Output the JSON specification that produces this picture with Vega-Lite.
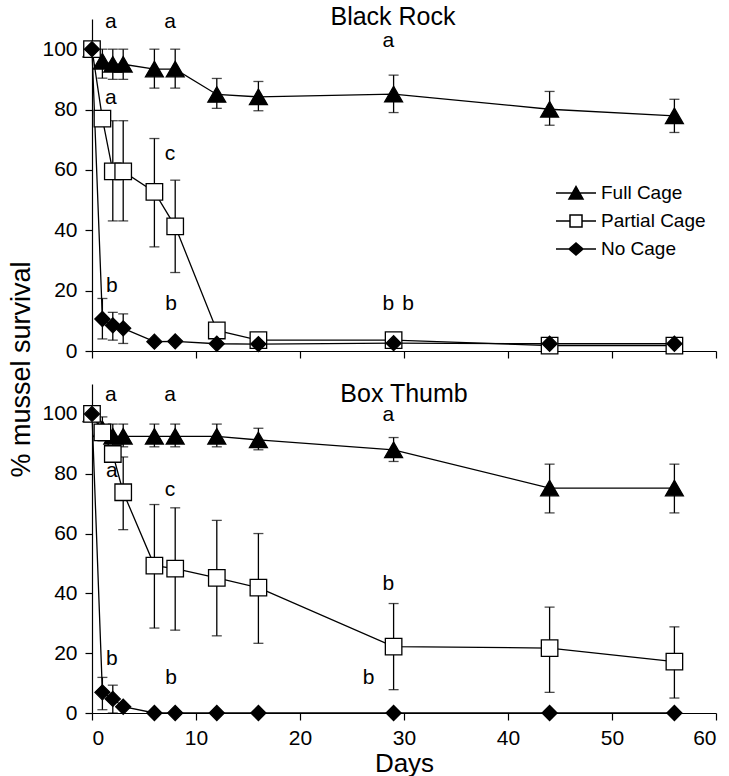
{
  "$schema": "https://vega.github.io/schema/vega-lite/v6.json",
  "background": "white",
  "padding": {"left": 7, "top": 5, "right": 5, "bottom": 2},
  "datasets": {
    "pts": [
      {"site": "Black Rock", "treatment": "Full Cage", "day": 0, "mean": 100, "lo": null, "hi": null},
      {"site": "Black Rock", "treatment": "Full Cage", "day": 1, "mean": 96, "lo": 90.4, "hi": 100},
      {"site": "Black Rock", "treatment": "Full Cage", "day": 2, "mean": 95, "lo": 90, "hi": 100},
      {"site": "Black Rock", "treatment": "Full Cage", "day": 3, "mean": 95, "lo": 90, "hi": 100},
      {"site": "Black Rock", "treatment": "Full Cage", "day": 6, "mean": 93.4, "lo": 87.1, "hi": 100},
      {"site": "Black Rock", "treatment": "Full Cage", "day": 8, "mean": 93.4, "lo": 87.1, "hi": 100},
      {"site": "Black Rock", "treatment": "Full Cage", "day": 12, "mean": 85, "lo": 80.4, "hi": 90.3},
      {"site": "Black Rock", "treatment": "Full Cage", "day": 16, "mean": 84.2, "lo": 79.6, "hi": 89.3},
      {"site": "Black Rock", "treatment": "Full Cage", "day": 29, "mean": 85.1, "lo": 79, "hi": 91.4},
      {"site": "Black Rock", "treatment": "Full Cage", "day": 44, "mean": 80.1, "lo": 74.8, "hi": 86},
      {"site": "Black Rock", "treatment": "Full Cage", "day": 56, "mean": 77.9, "lo": 72.4, "hi": 83.4},
      {"site": "Black Rock", "treatment": "Partial Cage", "day": 0, "mean": 100, "lo": null, "hi": null},
      {"site": "Black Rock", "treatment": "Partial Cage", "day": 1, "mean": 77, "lo": null, "hi": null},
      {"site": "Black Rock", "treatment": "Partial Cage", "day": 2, "mean": 59.5, "lo": 43.1, "hi": 76.3},
      {"site": "Black Rock", "treatment": "Partial Cage", "day": 3, "mean": 59.5, "lo": 43.1, "hi": 76.3},
      {"site": "Black Rock", "treatment": "Partial Cage", "day": 6, "mean": 52.7, "lo": 34.5, "hi": 70.4},
      {"site": "Black Rock", "treatment": "Partial Cage", "day": 8, "mean": 41.3, "lo": 26, "hi": 56.6},
      {"site": "Black Rock", "treatment": "Partial Cage", "day": 12, "mean": 6.8, "lo": null, "hi": null},
      {"site": "Black Rock", "treatment": "Partial Cage", "day": 16, "mean": 3.6, "lo": null, "hi": null},
      {"site": "Black Rock", "treatment": "Partial Cage", "day": 29, "mean": 3.6, "lo": null, "hi": null},
      {"site": "Black Rock", "treatment": "Partial Cage", "day": 44, "mean": 1.8, "lo": null, "hi": null},
      {"site": "Black Rock", "treatment": "Partial Cage", "day": 56, "mean": 1.8, "lo": null, "hi": null},
      {"site": "Black Rock", "treatment": "No Cage", "day": 0, "mean": 100, "lo": null, "hi": null},
      {"site": "Black Rock", "treatment": "No Cage", "day": 1, "mean": 10.6, "lo": 4, "hi": 17.4},
      {"site": "Black Rock", "treatment": "No Cage", "day": 2, "mean": 8.5, "lo": 3.6, "hi": 12.8},
      {"site": "Black Rock", "treatment": "No Cage", "day": 3, "mean": 7.5, "lo": 2.5, "hi": 12.3},
      {"site": "Black Rock", "treatment": "No Cage", "day": 6, "mean": 3.1, "lo": null, "hi": null},
      {"site": "Black Rock", "treatment": "No Cage", "day": 8, "mean": 3.2, "lo": null, "hi": null},
      {"site": "Black Rock", "treatment": "No Cage", "day": 12, "mean": 2.4, "lo": null, "hi": null},
      {"site": "Black Rock", "treatment": "No Cage", "day": 16, "mean": 2.3, "lo": null, "hi": null},
      {"site": "Black Rock", "treatment": "No Cage", "day": 29, "mean": 2.6, "lo": null, "hi": null},
      {"site": "Black Rock", "treatment": "No Cage", "day": 44, "mean": 2.4, "lo": null, "hi": null},
      {"site": "Black Rock", "treatment": "No Cage", "day": 56, "mean": 2.4, "lo": null, "hi": null},
      {"site": "Box Thumb", "treatment": "Full Cage", "day": 0, "mean": 100, "lo": null, "hi": null},
      {"site": "Box Thumb", "treatment": "Full Cage", "day": 1, "mean": 95, "lo": 91, "hi": 99},
      {"site": "Box Thumb", "treatment": "Full Cage", "day": 2, "mean": 92.5, "lo": 89, "hi": 96.6},
      {"site": "Box Thumb", "treatment": "Full Cage", "day": 3, "mean": 92.5, "lo": 89, "hi": 96.6},
      {"site": "Box Thumb", "treatment": "Full Cage", "day": 6, "mean": 92.5, "lo": 89, "hi": 96.6},
      {"site": "Box Thumb", "treatment": "Full Cage", "day": 8, "mean": 92.5, "lo": 89, "hi": 96.6},
      {"site": "Box Thumb", "treatment": "Full Cage", "day": 12, "mean": 92.5, "lo": 89, "hi": 96.6},
      {"site": "Box Thumb", "treatment": "Full Cage", "day": 16, "mean": 91.3, "lo": 88, "hi": 95.2},
      {"site": "Box Thumb", "treatment": "Full Cage", "day": 29, "mean": 88, "lo": 84.1, "hi": 92.1},
      {"site": "Box Thumb", "treatment": "Full Cage", "day": 44, "mean": 75.2, "lo": 66.9, "hi": 83.2},
      {"site": "Box Thumb", "treatment": "Full Cage", "day": 56, "mean": 75.2, "lo": 66.9, "hi": 83.2},
      {"site": "Box Thumb", "treatment": "Partial Cage", "day": 0, "mean": 100, "lo": null, "hi": null},
      {"site": "Box Thumb", "treatment": "Partial Cage", "day": 1, "mean": 93.8, "lo": null, "hi": null},
      {"site": "Box Thumb", "treatment": "Partial Cage", "day": 2, "mean": 86.6, "lo": null, "hi": null},
      {"site": "Box Thumb", "treatment": "Partial Cage", "day": 3, "mean": 73.8, "lo": 61.3, "hi": 85.6},
      {"site": "Box Thumb", "treatment": "Partial Cage", "day": 6, "mean": 49.3, "lo": 28.4, "hi": 69.7},
      {"site": "Box Thumb", "treatment": "Partial Cage", "day": 8, "mean": 48.3, "lo": 27.7, "hi": 68.6},
      {"site": "Box Thumb", "treatment": "Partial Cage", "day": 12, "mean": 45.2, "lo": 25.8, "hi": 64.4},
      {"site": "Box Thumb", "treatment": "Partial Cage", "day": 16, "mean": 41.9, "lo": 23.3, "hi": 60},
      {"site": "Box Thumb", "treatment": "Partial Cage", "day": 29, "mean": 22.2, "lo": 7.8, "hi": 36.6},
      {"site": "Box Thumb", "treatment": "Partial Cage", "day": 44, "mean": 21.7, "lo": 6.9, "hi": 35.4},
      {"site": "Box Thumb", "treatment": "Partial Cage", "day": 56, "mean": 17.2, "lo": 5, "hi": 28.8},
      {"site": "Box Thumb", "treatment": "No Cage", "day": 0, "mean": 100, "lo": null, "hi": null},
      {"site": "Box Thumb", "treatment": "No Cage", "day": 1, "mean": 6.9, "lo": 1.1, "hi": 11.9},
      {"site": "Box Thumb", "treatment": "No Cage", "day": 2, "mean": 4.7, "lo": 0, "hi": 9.3},
      {"site": "Box Thumb", "treatment": "No Cage", "day": 3, "mean": 2.1, "lo": null, "hi": null},
      {"site": "Box Thumb", "treatment": "No Cage", "day": 6, "mean": 0, "lo": null, "hi": null},
      {"site": "Box Thumb", "treatment": "No Cage", "day": 8, "mean": 0, "lo": null, "hi": null},
      {"site": "Box Thumb", "treatment": "No Cage", "day": 12, "mean": 0, "lo": null, "hi": null},
      {"site": "Box Thumb", "treatment": "No Cage", "day": 16, "mean": 0, "lo": null, "hi": null},
      {"site": "Box Thumb", "treatment": "No Cage", "day": 29, "mean": 0, "lo": null, "hi": null},
      {"site": "Box Thumb", "treatment": "No Cage", "day": 44, "mean": 0, "lo": null, "hi": null},
      {"site": "Box Thumb", "treatment": "No Cage", "day": 56, "mean": 0, "lo": null, "hi": null}
    ],
    "letters": [
      {"site": "Black Rock", "day": 1.8, "mean": 109, "label": "a"},
      {"site": "Black Rock", "day": 7.5, "mean": 109, "label": "a"},
      {"site": "Black Rock", "day": 28.5, "mean": 102.7, "label": "a"},
      {"site": "Black Rock", "day": 1.8, "mean": 83.8, "label": "a"},
      {"site": "Black Rock", "day": 7.5, "mean": 65.2, "label": "c"},
      {"site": "Black Rock", "day": 1.9, "mean": 21.6, "label": "b"},
      {"site": "Black Rock", "day": 7.6, "mean": 15.6, "label": "b"},
      {"site": "Black Rock", "day": 28.5, "mean": 15.6, "label": "b"},
      {"site": "Black Rock", "day": 30.4, "mean": 15.6, "label": "b"},
      {"site": "Box Thumb", "day": 1.8, "mean": 106.3, "label": "a"},
      {"site": "Box Thumb", "day": 7.5, "mean": 106.3, "label": "a"},
      {"site": "Box Thumb", "day": 28.5, "mean": 99.7, "label": "a"},
      {"site": "Box Thumb", "day": 1.9, "mean": 80.8, "label": "a"},
      {"site": "Box Thumb", "day": 7.5, "mean": 74.4, "label": "c"},
      {"site": "Box Thumb", "day": 1.9, "mean": 18, "label": "b"},
      {"site": "Box Thumb", "day": 7.6, "mean": 11.6, "label": "b"},
      {"site": "Box Thumb", "day": 28.5, "mean": 43, "label": "b"},
      {"site": "Box Thumb", "day": 26.6, "mean": 11.6, "label": "b"}
    ]
  },
  "vconcat": [
    {
      "width": 624,
      "height": 332,
      "title": {"text": "Black Rock", "frame": "group", "anchor": "middle", "baseline": "alphabetic", "offset": -39, "dx": -11, "fontSize": 25, "fontWeight": "normal", "font": "Liberation Sans", "color": "black"},
      "layer": [
        {
          "data": {"name": "pts"},
          "transform": [{"filter": "datum.site === 'Black Rock' && datum.lo != null"}],
          "mark": {"type": "errorbar", "color": "black", "thickness": 1.3, "ticks": {"size": 10, "thickness": 1.3, "color": "black"}},
          "encoding": {
            "x": {"field": "day", "type": "quantitative", "scale": {"domain": [0, 60], "nice": false}, "axis": {"values": [0, 10, 20, 30, 40, 50, 60], "labels": false, "title": null}},
            "y": {"field": "lo", "type": "quantitative", "scale": {"domain": [0, 110], "nice": false}, "axis": {"values": [0, 20, 40, 60, 80, 100], "title": "% mussel survival", "titleY": 350, "titlePadding": 6}},
            "y2": {"field": "hi"}
          }
        },
        {
          "data": {"name": "pts"},
          "transform": [{"filter": "datum.site === 'Black Rock'"}],
          "mark": {"type": "line", "color": "black", "strokeWidth": 1.3},
          "encoding": {
            "x": {"field": "day", "type": "quantitative", "scale": {"domain": [0, 60], "nice": false}, "axis": {"values": [0, 10, 20, 30, 40, 50, 60], "labels": false, "title": null}},
            "y": {"field": "mean", "type": "quantitative", "scale": {"domain": [0, 110], "nice": false}, "axis": {"values": [0, 20, 40, 60, 80, 100], "title": "% mussel survival", "titleY": 350, "titlePadding": 6}},
            "detail": {"field": "treatment"}
          }
        },
        {
          "data": {"name": "pts"},
          "transform": [{"filter": "datum.site === 'Black Rock'"}],
          "mark": {"type": "point", "filled": true, "stroke": "black", "strokeWidth": 1.3, "opacity": 1},
          "encoding": {
            "x": {"field": "day", "type": "quantitative"},
            "y": {"field": "mean", "type": "quantitative"},
            "shape": {"field": "treatment", "type": "nominal", "scale": {"domain": ["Full Cage", "Partial Cage", "No Cage"], "range": ["triangle-up", "square", "diamond"]}, "legend": null},
            "fill": {"field": "treatment", "type": "nominal", "scale": {"domain": ["Full Cage", "Partial Cage", "No Cage"], "range": ["black", "white", "black"]}, "legend": null},
            "size": {"field": "treatment", "type": "nominal", "scale": {"domain": ["Full Cage", "Partial Cage", "No Cage"], "range": [320, 225, 300]}, "legend": null}
          }
        },
        {
          "data": {"name": "letters"},
          "transform": [{"filter": "datum.site === 'Black Rock'"}],
          "mark": {"type": "text", "fontSize": 21, "font": "Liberation Sans", "color": "black", "align": "center", "baseline": "middle"},
          "encoding": {
            "x": {"field": "day", "type": "quantitative"},
            "y": {"field": "mean", "type": "quantitative"},
            "text": {"field": "label"}
          }
        },
        {
          "data": {"name": "pts"},
          "transform": [{"filter": "datum.site === 'Black Rock'"}],
          "mark": {"type": "point", "filled": true, "opacity": 0, "stroke": "black", "strokeWidth": 1.3},
          "encoding": {
            "x": {"field": "day", "type": "quantitative"},
            "y": {"field": "mean", "type": "quantitative"},
            "shape": {"field": "treatment", "type": "nominal", "scale": {"domain": ["Full Cage", "Partial Cage", "No Cage"], "range": ["M-1,0H1M-0.35,0.3L0.35,0.3L0,-0.32Z", "M-1,0H-0.3M0.3,0H1M-0.3,-0.3H0.3V0.3H-0.3Z", "M-1,0H1M-0.35,0L0,-0.3L0.35,0L0,0.3Z"]},
              "legend": {"orient": "none", "legendX": 463, "legendY": 161, "title": null, "padding": 0, "symbolSize": 1600, "symbolOpacity": 1, "clipHeight": 26, "labelFontSize": 19, "labelFont": "Liberation Sans", "labelColor": "black", "labelOffset": 4, "rowPadding": 2,
                "encode": {"symbols": {"update": {"stroke": {"value": "black"}, "strokeWidth": {"value": 1.3}, "opacity": {"value": 1}}}}}},
            "fill": {"field": "treatment", "type": "nominal", "scale": {"domain": ["Full Cage", "Partial Cage", "No Cage"], "range": ["black", "white", "black"]},
              "legend": {"orient": "none", "legendX": 463, "legendY": 161, "title": null, "padding": 0, "symbolSize": 1600, "symbolOpacity": 1, "clipHeight": 26, "labelFontSize": 19, "labelFont": "Liberation Sans", "labelColor": "black", "labelOffset": 4, "rowPadding": 2,
                "encode": {"symbols": {"update": {"stroke": {"value": "black"}, "strokeWidth": {"value": 1.3}, "opacity": {"value": 1}}}}}}
          }
        }
      ],
      "resolve": {"scale": {"shape": "independent", "fill": "independent", "size": "independent"}}
    },
    {
      "width": 624,
      "height": 329,
      "title": {"text": "Box Thumb", "frame": "group", "anchor": "middle", "baseline": "alphabetic", "offset": -43, "dx": 0, "fontSize": 25, "fontWeight": "normal", "font": "Liberation Sans", "color": "black"},
      "layer": [
        {
          "data": {"name": "pts"},
          "transform": [{"filter": "datum.site === 'Box Thumb' && datum.lo != null"}],
          "mark": {"type": "errorbar", "color": "black", "thickness": 1.3, "ticks": {"size": 10, "thickness": 1.3, "color": "black"}},
          "encoding": {
            "x": {"field": "day", "type": "quantitative", "scale": {"domain": [0, 60], "nice": false}, "axis": {"values": [0, 10, 20, 30, 40, 50, 60], "title": "Days", "titlePadding": 2, "labelPadding": 7}},
            "y": {"field": "lo", "type": "quantitative", "scale": {"domain": [0, 110], "nice": false}, "axis": {"values": [0, 20, 40, 60, 80, 100], "title": null}},
            "y2": {"field": "hi"}
          }
        },
        {
          "data": {"name": "pts"},
          "transform": [{"filter": "datum.site === 'Box Thumb'"}],
          "mark": {"type": "line", "color": "black", "strokeWidth": 1.3},
          "encoding": {
            "x": {"field": "day", "type": "quantitative", "scale": {"domain": [0, 60], "nice": false}, "axis": {"values": [0, 10, 20, 30, 40, 50, 60], "title": "Days", "titlePadding": 2, "labelPadding": 7}},
            "y": {"field": "mean", "type": "quantitative", "scale": {"domain": [0, 110], "nice": false}, "axis": {"values": [0, 20, 40, 60, 80, 100], "title": null}},
            "detail": {"field": "treatment"}
          }
        },
        {
          "data": {"name": "pts"},
          "transform": [{"filter": "datum.site === 'Box Thumb'"}],
          "mark": {"type": "point", "filled": true, "stroke": "black", "strokeWidth": 1.3, "opacity": 1},
          "encoding": {
            "x": {"field": "day", "type": "quantitative"},
            "y": {"field": "mean", "type": "quantitative"},
            "shape": {"field": "treatment", "type": "nominal", "scale": {"domain": ["Full Cage", "Partial Cage", "No Cage"], "range": ["triangle-up", "square", "diamond"]}, "legend": null},
            "fill": {"field": "treatment", "type": "nominal", "scale": {"domain": ["Full Cage", "Partial Cage", "No Cage"], "range": ["black", "white", "black"]}, "legend": null},
            "size": {"field": "treatment", "type": "nominal", "scale": {"domain": ["Full Cage", "Partial Cage", "No Cage"], "range": [320, 225, 300]}, "legend": null}
          }
        },
        {
          "data": {"name": "letters"},
          "transform": [{"filter": "datum.site === 'Box Thumb'"}],
          "mark": {"type": "text", "fontSize": 21, "font": "Liberation Sans", "color": "black", "align": "center", "baseline": "middle"},
          "encoding": {
            "x": {"field": "day", "type": "quantitative"},
            "y": {"field": "mean", "type": "quantitative"},
            "text": {"field": "label"}
          }
        }
      ]
    }
  ],
  "spacing": 33,
  "bounds": "flush",
  "config": {
    "view": {"stroke": null},
    "font": "Liberation Sans",
    "axis": {
      "grid": false,
      "domainColor": "black",
      "domainWidth": 1.2,
      "tickColor": "black",
      "tickWidth": 1.2,
      "tickSize": 7,
      "labelColor": "black",
      "labelFont": "Liberation Sans",
      "labelFontSize": 21,
      "labelPadding": 8,
      "titleColor": "black",
      "titleFont": "Liberation Sans",
      "titleFontSize": 27,
      "titleFontWeight": "normal"
    },
    "axisX": {"titleFontSize": 26}
  }
}
